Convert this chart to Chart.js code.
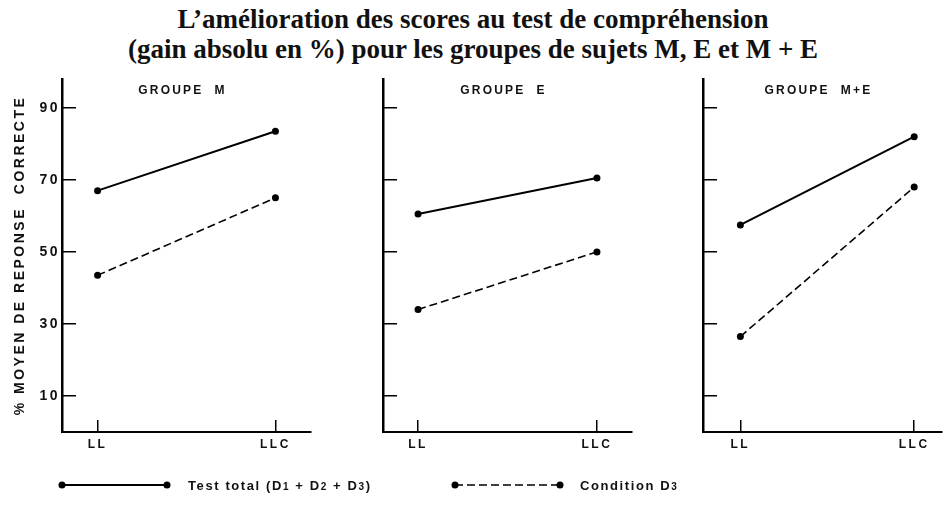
<!DOCTYPE html>
<html>
<head>
<meta charset="utf-8">
<script src="https://cdn.jsdelivr.net/npm/chart.js@4.4.1/dist/chart.umd.min.js"></script>
<style>
body { margin: 0; width: 946px; height: 505px; background: #fff; position: relative; overflow: hidden; }
#title { position: absolute; left: 0; top: 4px; width: 946px; text-align: center;
  font: bold 27px/30px "Liberation Serif", "Times New Roman", serif; color: #111; }
canvas { position: absolute; left: 0; top: 0; }
</style>
</head>
<body>
<div id="title">L’amélioration des scores au test de compréhension<br>(gain absolu en %) pour les groupes de sujets M, E et M + E</div>
<canvas id="c1" width="946" height="505"></canvas>
<canvas id="c2" width="946" height="505"></canvas>
<canvas id="c3" width="946" height="505"></canvas>
<script>
// data
const categories = ['LL', 'LLC'];
const groups = ['GROUPE  M', 'GROUPE  E', 'GROUPE  M+E'];
const yTicks = [10, 30, 50, 70, 90];
const seriesNames = ['Test total (D1 + D2 + D3)', 'Condition D3'];
const testTotal = [[67, 83.5], [60.5, 70.5], [57.5, 82]];
const conditionD3 = [[43.5, 65], [34, 50], [26.5, 68]];
const yTitle = '% MOYEN DE REPONSE  CORRECTE';

Chart.defaults.font.family = '"Liberation Sans", Arial, sans-serif';
Chart.defaults.font.weight = 'bold';
Chart.defaults.color = '#111';

// where each panel sits on the page
const panels = [
  { id: 'c1', left: 62, right: 311, yW: 62, xMin: -0.2, xMax: 1.2 },
  { id: 'c2', left: 383, right: 632, yW: 20, xMin: -0.196, xMax: 1.196 },
  { id: 'c3', left: 703, right: 946, yW: 20, xMin: -0.215, xMax: 1.16 }
];

function drawRuns(ctx, text, x, y) {
  // digits after a D are printed smaller
  const parts = text.split(/(?<=D)(\d)/);
  parts.forEach((p, i) => {
    ctx.font = i % 2 ? 'bold 10px "Liberation Sans", Arial' : 'bold 13px "Liberation Sans", Arial';
    ctx.fillText(p, x, y);
    x += ctx.measureText(p).width;
  });
}

const panelText = {
  id: 'panelText',
  beforeDraw(chart) {
    chart.ctx.letterSpacing = '2.5px';
  },
  afterDraw(chart, args, opts) {
    const ctx = chart.ctx;
    const area = chart.chartArea;
    ctx.save();
    ctx.fillStyle = '#111';
    ctx.letterSpacing = '2.2px';
    ctx.font = 'bold 12px "Liberation Sans", Arial';
    ctx.textAlign = 'center';
    ctx.textBaseline = 'middle';
    ctx.fillText(opts.group, (area.left + area.right) / 2 - 4, area.top + 12);

    if (opts.legend) {
      const rows = [{ x0: 62, x1: 167, tx: 188 }, { x0: 455, x1: 560, tx: 580 }];
      const y = 485;
      rows.forEach((r, k) => {
        const ds = chart.data.datasets[k];
        ctx.strokeStyle = '#000';
        ctx.fillStyle = '#000';
        ctx.lineWidth = ds.borderWidth;
        ctx.setLineDash(ds.borderDash || []);
        ctx.beginPath();
        ctx.moveTo(r.x0, y);
        ctx.lineTo(r.x1, y);
        ctx.stroke();
        ctx.setLineDash([]);
        [r.x0, r.x1].forEach(px => {
          ctx.beginPath();
          ctx.arc(px, y, 3.5, 0, Math.PI * 2);
          ctx.fill();
        });
        ctx.fillStyle = '#111';
        ctx.letterSpacing = '1.6px';
        ctx.textAlign = 'left';
        ctx.textBaseline = 'alphabetic';
        drawRuns(ctx, ds.label, r.tx, y + 5);
      });
    }
    ctx.restore();
  }
};

panels.forEach((p, i) => {
  const first = i === 0;
  new Chart(document.getElementById(p.id), {
    type: 'line',
    data: {
      datasets: [
        {
          label: seriesNames[0],
          data: testTotal[i].map((v, j) => ({ x: j, y: v })),
          borderColor: '#000',
          borderWidth: 2,
          pointRadius: 3.5,
          pointBackgroundColor: '#000',
          pointBorderWidth: 0
        },
        {
          label: seriesNames[1],
          data: conditionD3[i].map((v, j) => ({ x: j, y: v })),
          borderColor: '#000',
          borderWidth: 1.6,
          borderDash: [8, 4],
          pointRadius: 3.5,
          pointBackgroundColor: '#000',
          pointBorderWidth: 0
        }
      ]
    },
    options: {
      responsive: false,
      animation: false,
      layout: { padding: { left: p.left - p.yW, right: 946 - p.right, top: 79, bottom: 43 } },
      plugins: {
        legend: { display: false },
        tooltip: { enabled: false },
        panelText: { group: groups[i], legend: first }
      },
      scales: {
        x: {
          type: 'linear',
          min: p.xMin,
          max: p.xMax,
          afterBuildTicks: s => { s.ticks = categories.map((c, j) => ({ value: j })); },
          afterFit: s => { s.height = 30; },
          ticks: {
            callback: v => categories[v],
            font: { size: 12, weight: 'bold' },
            padding: 17,
            maxRotation: 0
          },
          grid: { drawOnChartArea: false, tickLength: -12, color: '#000', lineWidth: 1.5 },
          border: { color: '#000', width: 2 }
        },
        y: {
          min: 0,
          max: 98,
          afterBuildTicks: s => { s.ticks = yTicks.map(v => ({ value: v })); },
          afterFit: s => { s.width = p.yW; },
          ticks: {
            display: first,
            font: { size: 14, weight: 'bold' },
            padding: 16
          },
          title: {
            display: first,
            text: yTitle,
            font: { size: 14, weight: 'bold' },
            padding: { top: 12, bottom: 0 }
          },
          grid: { drawOnChartArea: false, tickLength: -14, color: '#000', lineWidth: 1.5 },
          border: { color: '#000', width: 2.5 }
        }
      }
    },
    plugins: [panelText]
  });
});
</script>
</body>
</html>
